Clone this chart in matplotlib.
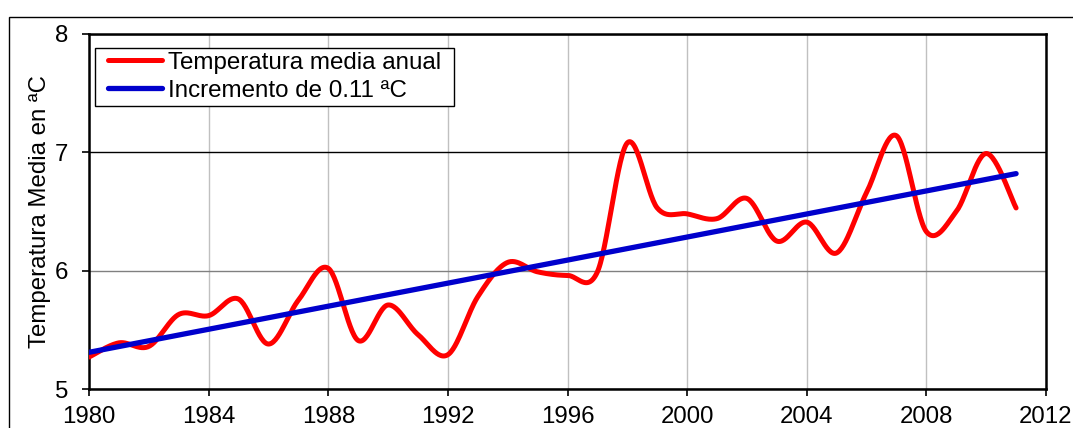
import numpy as np
import matplotlib
matplotlib.use("Agg")
import matplotlib.pyplot as plt
from matplotlib.patches import Rectangle

# ---- data ----
years = list(range(1980, 2012))
temps = [5.27, 5.39, 5.36, 5.63, 5.62, 5.76, 5.38, 5.75, 6.02, 5.41,
         5.71, 5.46, 5.29, 5.78, 6.07, 5.99, 5.96, 5.99, 7.08, 6.53,
         6.48, 6.44, 6.61, 6.25, 6.41, 6.15, 6.66, 7.14, 6.33, 6.50,
         6.99, 6.53]
trend_years = [1980, 2011]
trend_vals = [5.31, 6.82]
xticks = [1980, 1984, 1988, 1992, 1996, 2000, 2004, 2008, 2012]
yticks = [5, 6, 7, 8]
label_series = "Temperatura media anual"
label_trend = "Incremento de 0.11 ªC"
ylabel = "Temperatura Media en ªC"


def smooth(xs, ys, n=30):
    """Excel-like smoothed line (Catmull-Rom / cubic Bezier)."""
    xs = np.asarray(xs, float)
    ys = np.asarray(ys, float)
    P = np.column_stack([xs, ys])
    P = np.vstack([P[0], P, P[-1]])
    out = []
    t = np.linspace(0, 1, n, endpoint=False)[:, None]
    for i in range(1, len(P) - 2):
        p0, p1, p2, p3 = P[i - 1], P[i], P[i + 1], P[i + 2]
        c1 = p1 + (p2 - p0) / 6.0
        c2 = p2 - (p3 - p1) / 6.0
        b = ((1 - t) ** 3) * p1 + 3 * ((1 - t) ** 2) * t * c1 + 3 * (1 - t) * t ** 2 * c2 + t ** 3 * p2
        out.append(b)
    out.append(P[-2][None, :])
    out = np.vstack(out)
    return out[:, 0], out[:, 1]


plt.rcParams['font.family'] = ['Liberation Sans', 'DejaVu Sans']
FS = 17.3

W, H = 1073, 428
fig = plt.figure(figsize=(W / 100, H / 100), dpi=100)
ax = fig.add_axes([89 / W, 1 - 389 / H, (1046 - 89) / W, (389 - 34) / H])

# outer chart-area frame (partially cropped like the reference)
fig.patches.append(Rectangle((9 / W, -0.2), 1.2, 1.2 - 16.5 / H,
                             transform=fig.transFigure, fill=False,
                             edgecolor='black', linewidth=1.0, clip_on=False))

sx, sy = smooth(years, temps)
ax.plot(sx, sy, color='#ff0000', linewidth=3.6, solid_capstyle='round',
        label=label_series, zorder=3)
ax.plot(trend_years, trend_vals, color='#0000cc', linewidth=3.8,
        solid_capstyle='round', label=label_trend, zorder=4)

ax.set_xlim(1980, 2012)
ax.set_ylim(5, 8)
ax.set_xticks(xticks)
ax.set_yticks(yticks)
ax.tick_params(axis='both', labelsize=FS, direction='out', length=5,
               width=1.2, colors='black')
ax.tick_params(axis='y', pad=10)
ax.tick_params(axis='x', pad=7.5)

ax.grid(True, axis='x', color='#c0c0c0', linewidth=1.0, zorder=0)
ax.grid(True, axis='y', color='black', linewidth=1.0, zorder=0)
for gl, v in zip(ax.get_ygridlines(), yticks):
    if v == 6:
        gl.set_color('#808080')
ax.set_axisbelow(True)

for s in ax.spines.values():
    s.set_linewidth(1.8)
    s.set_color('black')

ax.set_ylabel(ylabel, fontsize=FS, labelpad=3)

leg = ax.legend(loc='upper left', bbox_to_anchor=(0.0167, 0.958),
                borderaxespad=0, fontsize=17.4, frameon=False,
                handlelength=2.25, handletextpad=0.25,
                labelspacing=0.24, borderpad=0.12)
leg.set_zorder(10)

# legend box with extra horizontal padding (as in the reference)
fig.canvas.draw()
bb = leg.get_window_extent()
padl, padr, pady = 9.5, 10, 1
inv = ax.transAxes.inverted()
(x0, y0) = inv.transform((bb.x0 - padl, bb.y0 - pady))
(x1, y1) = inv.transform((bb.x1 + padr, bb.y1 + pady))
ax.add_patch(Rectangle((x0, y0), x1 - x0, y1 - y0, transform=ax.transAxes,
                       facecolor='white', edgecolor='black', linewidth=1.0,
                       zorder=8))

fig.savefig('out.png', dpi=100)
